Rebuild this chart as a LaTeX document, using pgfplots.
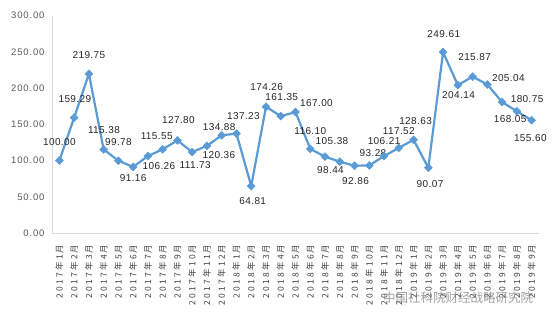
\documentclass[border=0pt]{standalone}
\usepackage{pgfplots}
\pgfplotsset{compat=1.18}
\usepackage{fontspec}
\setmainfont{Liberation Sans}
\newfontfamily\datafont[LetterSpace=4]{Liberation Sans}
\newfontfamily\yfont[LetterSpace=9]{Liberation Sans}
\newfontfamily\xlblfont[LetterSpace=26]{Noto Sans CJK SC}
\newfontfamily\cjk{Noto Sans CJK SC}
\definecolor{lineblue}{HTML}{5B9BD5}
\definecolor{axisgray}{HTML}{D9D9D9}
\definecolor{tickgray}{HTML}{595959}
\definecolor{xtickgray}{HTML}{404040}
\definecolor{labgray}{HTML}{262626}
\begin{document}
\begin{tikzpicture}[x=1pt,y=1pt]
\useasboundingbox (-52pt,-90pt) rectangle (502pt,233pt);
\begin{axis}[
  at={(0pt,0pt)}, anchor=south west,
  scale only axis, width=487pt, height=217.3pt,
  xmin=-0.5, xmax=32.5, ymin=0, ymax=300,
  clip=false,
  axis x line*=bottom, axis y line*=left,
  axis line style={axisgray, line width=0.8pt},
  x axis line style={-}, y axis line style={-},
  major tick length=0pt,
  ytick={0,50,...,300},
  xtick={0,...,32},
  xticklabels={2017年1月,2017年2月,2017年3月,2017年4月,2017年5月,2017年6月,2017年7月,2017年8月,2017年9月,2017年10月,2017年11月,2017年12月,2018年1月,2018年2月,2018年3月,2018年4月,2018年5月,2018年6月,2018年7月,2018年8月,2018年9月,2018年10月,2018年11月,2018年12月,2019年1月,2019年2月,2019年3月,2019年4月,2019年5月,2019年6月,2019年7月,2019年8月,2019年9月},
  xticklabel style={rotate=90, anchor=east, font=\xlblfont\fontsize{8.5}{9}\selectfont, text=xtickgray},
  xticklabel shift=8pt,
  yticklabel style={font=\yfont\fontsize{9.5}{10}\selectfont, text=tickgray,
    /pgf/number format/.cd, fixed, zerofill, precision=2},
  yticklabel shift=4pt,
  /pgf/number format/assume math mode=true,
]
\addplot[color=lineblue, line width=2.2pt, mark=square*, mark size=2.8pt,
  mark options={rotate=45, fill=lineblue, draw=lineblue, line width=0.5pt},
  nodes near coords={\pgfmathprintnumber[fixed,zerofill,precision=2,assume math mode=true]{\pgfplotspointmeta}},
  visualization depends on={value \thisrow{dx} \as \dxv},
  visualization depends on={value \thisrow{dy} \as \dyv},
  every node near coord/.append style={anchor=center, inner sep=0pt,
    xshift=\dxv pt, yshift=\dyv pt, font=\datafont\fontsize{10}{11}\selectfont, text=labgray},
] table[x=x, y=y] {
x y dx dy
0 100.00 0 19
1 159.29 0.7 19
2 219.75 0 18.3
3 115.38 0.3 19.3
4 99.78 0 19
5 91.16 0 -11.3
6 106.26 11 -10
7 115.55 -6 12.7
8 127.80 1 20
9 111.73 3 -13.3
10 120.36 12 -9
11 134.88 -2.5 8
12 137.23 7 18
13 64.81 1.5 -15.3
14 174.26 0.7 19.3
15 161.35 1 19.3
16 167.00 21 9.3
17 116.10 0 18.3
18 105.38 7 15.7
19 98.44 -9.3 -8.3
20 92.86 1 -15
21 93.28 3.7 12
22 106.21 0 15
23 117.52 0 17.3
24 128.63 2 18.6
25 90.07 1.7 -16.7
26 249.61 0.7 18.3
27 204.14 0.7 -10
28 215.87 2 19.3
29 205.04 21 6.7
30 180.75 25 2.7
31 168.05 -6.7 -7.3
32 155.60 -1.3 -17.3
};
\end{axis}
\node[text=gray, opacity=0.75, font=\cjk\fontsize{12.5}{13}\selectfont] at (406pt,-65pt) {中国社科院财经战略研究院};
\end{tikzpicture}
\end{document}
